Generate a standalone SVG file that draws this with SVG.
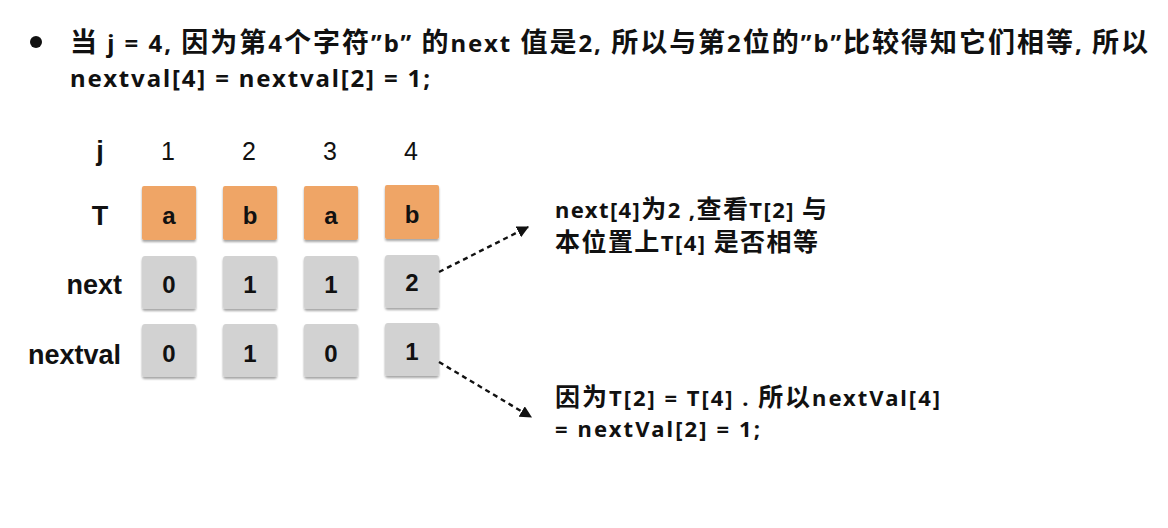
<svg xmlns="http://www.w3.org/2000/svg" width="1168" height="528" viewBox="0 0 1168 528">
<style>
.cjk{font-family:"Noto Sans","Noto Sans CJK SC",sans-serif;font-weight:700;font-size:24px;fill:#111}
.c{font-family:"Noto Sans CJK SC",sans-serif;font-size:27px}
.nt{font-family:"Noto Sans","Noto Sans CJK SC",sans-serif;font-weight:700;font-size:22px;fill:#111}
.nc{font-family:"Noto Sans CJK SC",sans-serif;font-size:25px}
.lbl{font-family:"Liberation Sans",Arial,sans-serif;font-weight:700;font-size:27px;fill:#111}
.hdr{font-family:"Liberation Sans",Arial,sans-serif;font-size:25px;fill:#111}
.val{font-family:"Liberation Sans",Arial,sans-serif;font-weight:700;font-size:24px;fill:#111;text-anchor:middle}
.org{fill:#EFA566}
.gry{fill:#D2D2D2}
.conn{fill:none;stroke:#111;stroke-width:2.4;stroke-dasharray:5 4}
</style>
<defs>
<filter id="sh" x="-20%" y="-20%" width="140%" height="150%">
<feDropShadow dx="0" dy="2" stdDeviation="1.2" flood-color="#000" flood-opacity="0.35"/>
</filter>
<marker id="ah" viewBox="0 0 10 10" refX="9" refY="5" markerWidth="5" markerHeight="5" orient="auto" markerUnits="strokeWidth">
<path d="M0,0 L10,5 L0,10 z" fill="#111"/>
</marker>
</defs>
<rect width="1168" height="528" fill="#fff"/>

<g id="title">
<circle cx="36" cy="42" r="6" fill="#111"/>
<text class="cjk" x="70" y="52" textLength="1078"><tspan class="c">当</tspan> j = 4, <tspan class="c">因为第</tspan>4<tspan class="c">个字符</tspan>”b” <tspan class="c">的</tspan>next <tspan class="c">值是</tspan>2, <tspan class="c">所以与第</tspan>2<tspan class="c">位的</tspan>”b”<tspan class="c">比较得知它们相等</tspan>, <tspan class="c">所以</tspan></text>
<text class="cjk" x="70" y="87" textLength="360">nextval[4] = nextval[2] = 1;</text>
</g>

<g id="header">
<text class="lbl" x="100" y="160" text-anchor="middle">j</text>
<text class="hdr" x="168" y="160" text-anchor="middle">1</text>
<text class="hdr" x="249" y="160" text-anchor="middle">2</text>
<text class="hdr" x="330" y="160" text-anchor="middle">3</text>
<text class="hdr" x="411" y="160" text-anchor="middle">4</text>
</g>

<g id="row-labels">
<text class="lbl" x="100" y="225" text-anchor="middle">T</text>
<text class="lbl" x="122" y="294" text-anchor="end">next</text>
<text class="lbl" x="121" y="364" text-anchor="end">nextval</text>
</g>

<g id="T1"><rect class="org" x="142" y="186" width="54" height="54" rx="2" filter="url(#sh)"/><text class="val" x="169" y="224">a</text></g>
<g id="T2"><rect class="org" x="223" y="186" width="54" height="54" rx="2" filter="url(#sh)"/><text class="val" x="250" y="224">b</text></g>
<g id="T3"><rect class="org" x="304" y="186" width="54" height="54" rx="2" filter="url(#sh)"/><text class="val" x="331" y="224">a</text></g>
<g id="T4"><rect class="org" x="385" y="185" width="54" height="54" rx="2" filter="url(#sh)"/><text class="val" x="412" y="223">b</text></g>

<g id="next1"><rect class="gry" x="142" y="256" width="54" height="53" rx="3" filter="url(#sh)"/><text class="val" x="169" y="293">0</text></g>
<g id="next2"><rect class="gry" x="223" y="256" width="54" height="53" rx="3" filter="url(#sh)"/><text class="val" x="250" y="293">1</text></g>
<g id="next3"><rect class="gry" x="304" y="256" width="54" height="53" rx="3" filter="url(#sh)"/><text class="val" x="331" y="293">1</text></g>
<g id="next4"><rect class="gry" x="385" y="255" width="54" height="53" rx="3" filter="url(#sh)"/><text class="val" x="412" y="291">2</text></g>

<g id="nv1"><rect class="gry" x="142" y="324" width="54" height="53" rx="3" filter="url(#sh)"/><text class="val" x="169" y="362">0</text></g>
<g id="nv2"><rect class="gry" x="223" y="324" width="54" height="53" rx="3" filter="url(#sh)"/><text class="val" x="250" y="362">1</text></g>
<g id="nv3"><rect class="gry" x="304" y="324" width="54" height="53" rx="3" filter="url(#sh)"/><text class="val" x="331" y="362">0</text></g>
<g id="nv4"><rect class="gry" x="385" y="323" width="54" height="53" rx="3" filter="url(#sh)"/><text class="val" x="412" y="360">1</text></g>

<g id="connectors">
<line class="conn" x1="439" y1="272" x2="528" y2="227" marker-end="url(#ah)"/>
<line class="conn" x1="439" y1="362" x2="531" y2="417" marker-end="url(#ah)"/>
</g>

<g id="note1">
<text class="nt" x="555" y="218" textLength="272">next[4]<tspan class="nc">为</tspan>2 ,<tspan class="nc">查看</tspan>T[2] <tspan class="nc">与</tspan></text>
<text class="nt" x="555" y="251" textLength="263"><tspan class="nc">本位置上</tspan>T[4] <tspan class="nc">是否相等</tspan></text>
</g>

<g id="note2">
<text class="nt" x="555" y="406" textLength="385"><tspan class="nc">因为</tspan>T[2] = T[4] . <tspan class="nc">所以</tspan>nextVal[4]</text>
<text class="nt" x="555" y="437" textLength="205">= nextVal[2] = 1;</text>
</g>
</svg>
